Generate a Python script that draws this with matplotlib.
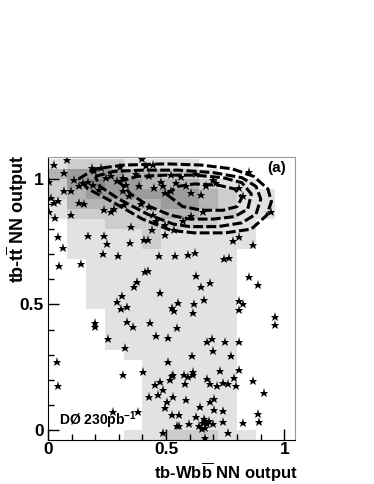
import matplotlib
matplotlib.use("Agg")
import matplotlib.pyplot as plt
from matplotlib.colors import ListedColormap
from matplotlib.ticker import MultipleLocator
import numpy as np

plt.rcParams['font.family'] = ['Liberation Sans', 'DejaVu Sans']
plt.rcParams['font.weight'] = 'bold'
plt.rcParams['mathtext.fontset'] = 'custom'
plt.rcParams['mathtext.rm'] = 'Liberation Sans:bold'
plt.rcParams['mathtext.bf'] = 'Liberation Sans:bold'

# histogram binning (x: 0.08 wide, y: 0.04 wide)
x_edges = np.arange(0, 1.041, 0.08)
y_edges = np.arange(-0.04, 1.081, 0.04)

# grey level per bin, rows from top (1.04-1.08) down to bottom (-0.04-0)
hist_rows = [
    [1, 2, 2, 2, 1, 1, 1, 1, 0, 0, 0, 0, 0],
    [3, 4, 4, 4, 3, 3, 2, 2, 1, 0, 0, 0, 0],
    [2, 4, 5, 4, 4, 3, 3, 3, 2, 1, 1, 0, 0],
    [2, 3, 4, 4, 4, 4, 4, 4, 3, 2, 1, 1, 0],
    [1, 3, 3, 3, 3, 3, 4, 4, 3, 2, 1, 1, 0],
    [1, 2, 2, 2, 2, 2, 3, 3, 2, 2, 1, 1, 0],
    [0, 1, 1, 2, 2, 2, 2, 2, 2, 1, 1, 0, 0],
    [0, 1, 1, 1, 1, 2, 1, 1, 1, 1, 1, 0, 0],
    [0, 1, 1, 1, 1, 2, 1, 1, 1, 1, 1, 0, 0],
    [0, 1, 1, 1, 1, 1, 1, 1, 1, 1, 0, 0, 0],
    [0, 0, 1, 1, 1, 1, 1, 1, 1, 1, 0, 0, 0],
    [0, 0, 1, 1, 1, 1, 1, 1, 1, 1, 0, 0, 0],
    [0, 0, 1, 1, 1, 1, 1, 1, 1, 1, 0, 0, 0],
    [0, 0, 1, 1, 1, 1, 1, 1, 1, 1, 0, 0, 0],
    [0, 0, 1, 1, 1, 1, 1, 1, 1, 1, 0, 0, 0],
    [0, 0, 0, 1, 1, 1, 1, 1, 1, 1, 0, 0, 0],
    [0, 0, 0, 1, 1, 1, 1, 1, 1, 1, 0, 0, 0],
    [0, 0, 0, 1, 1, 1, 1, 1, 1, 1, 0, 0, 0],
    [0, 0, 0, 1, 1, 1, 1, 1, 1, 1, 0, 0, 0],
    [0, 0, 0, 0, 1, 1, 1, 1, 1, 1, 0, 0, 0],
    [0, 0, 0, 0, 0, 1, 1, 1, 1, 1, 0, 0, 0],
    [0, 0, 0, 0, 0, 1, 1, 1, 1, 1, 0, 0, 0],
    [0, 0, 0, 0, 0, 1, 1, 1, 1, 1, 0, 0, 0],
    [0, 0, 0, 0, 0, 1, 1, 1, 1, 1, 0, 0, 0],
    [0, 0, 0, 0, 0, 1, 1, 1, 1, 1, 0, 0, 0],
    [0, 0, 0, 0, 0, 1, 1, 1, 1, 1, 0, 0, 0],
    [0, 0, 0, 0, 0, 1, 1, 1, 1, 1, 0, 0, 0],
    [0, 0, 0, 0, 1, 1, 2, 2, 2, 1, 1, 0, 0],
]
grey_colors = ['#ffffff', '#e2e2e2', '#cdcdcd', '#b4b4b4', '#9c9c9c', '#888888']

# data events (tb-Wbb output, tb-tt output)
data_x = [0.080, 0.025, 0.397, 0.415, 0.446, 0.305, 0.185, 0.197, 0.225, 0.070,
          0.006, 0.112, 0.147, 0.168, 0.190, 0.246, 0.267, 0.291, 0.316, 0.373,
          0.429, 0.521, 0.563, 0.626, 0.697, 0.852, 0.387, 0.450, 0.486, 0.521,
          0.605, 0.648, 0.810, 0.824, 0.944, 0.013, 0.027, 0.042, 0.006, 0.032,
          0.070, 0.098, 0.130, 0.154, 0.239, 0.267, 0.281, 0.323, 0.394, 0.429,
          0.098, 0.443, 0.457, 0.493, 0.535, 0.570, 0.605, 0.655, 0.352, 0.168,
          0.236, 0.042, 0.066, 0.249, 0.347, 0.408, 0.422, 0.440, 0.497, 0.784,
          0.810, 0.866, 0.046, 0.140, 0.232, 0.298, 0.469, 0.539, 0.594, 0.621,
          0.744, 0.765, 0.412, 0.425, 0.376, 0.364, 0.315, 0.476, 0.628, 0.646,
          0.687, 0.852, 0.890, 0.478, 0.493, 0.542, 0.584, 0.669, 0.711, 0.133,
          0.218, 0.316, 0.345, 0.330,
          0.291, 0.309, 0.333, 0.525, 0.532, 0.549, 0.617, 0.612, 0.658, 0.807,
          0.824, 0.807, 0.199, 0.199, 0.335, 0.359, 0.432, 0.545, 0.253, 0.455,
          0.507, 0.673, 0.694, 0.748, 0.807, 0.697, 0.325, 0.774, 0.608, 0.509,
          0.959, 0.959, 0.040, 0.044, 0.316, 0.401, 0.525, 0.529, 0.518, 0.577,
          0.591, 0.612, 0.612, 0.727, 0.806, 0.787, 0.866, 0.914, 0.474, 0.453,
          0.580, 0.673, 0.684, 0.715, 0.739, 0.760, 0.797, 0.488, 0.426, 0.467,
          0.503, 0.528, 0.584, 0.493, 0.645, 0.687, 0.701, 0.701, 0.524, 0.556,
          0.626, 0.659, 0.739, 0.546, 0.553, 0.598, 0.638, 0.655, 0.663, 0.697,
          0.739, 0.650, 0.664, 0.487, 0.664, 0.760, 0.274, 0.381, 0.887, 0.893,
          0.825, 0.672, 0.683]
data_y = [1.075, 1.056, 1.078, 1.053, 1.056, 1.049, 1.042, 1.033, 1.042, 1.022,
          0.989, 0.996, 0.983, 0.989, 0.976, 1.003, 1.012, 0.993, 1.003, 1.020,
          1.012, 1.016, 1.007, 1.020, 0.996, 1.029, 0.970, 0.963, 0.970, 0.950,
          0.943, 0.937, 0.963, 0.930, 0.870, 0.923, 0.903, 0.910, 0.870, 0.844,
          0.950, 0.950, 0.903, 0.899, 0.877, 0.870, 0.880, 0.897, 0.901, 0.888,
          0.857, 0.857, 0.831, 0.817, 0.798, 0.831, 0.851, 0.870, 0.808, 0.774,
          0.774, 0.769, 0.725, 0.741, 0.745, 0.758, 0.758, 0.798, 0.776, 0.751,
          0.769, 0.735, 0.655, 0.661, 0.702, 0.692, 0.692, 0.694, 0.698, 0.705,
          0.679, 0.684, 0.631, 0.635, 0.590, 0.571, 0.533, 0.544, 0.615, 0.570,
          0.587, 0.610, 0.579, 0.989, 0.943, 0.983, 0.970, 0.970, 0.983, 0.970,
          0.956, 0.950, 0.930, 0.976,
          0.511, 0.480, 0.491, 0.487, 0.474, 0.507, 0.503, 0.467, 0.516, 0.513,
          0.500, 0.478, 0.427, 0.411, 0.430, 0.411, 0.425, 0.405, 0.361, 0.374,
          0.365, 0.351, 0.361, 0.351, 0.351, 0.315, 0.328, 0.295, 0.295, 0.271,
          0.450, 0.419, 0.271, 0.173, 0.218, 0.231, 0.213, 0.218, 0.200, 0.218,
          0.209, 0.231, 0.218, 0.235, 0.239, 0.205, 0.193, 0.146, 0.189, 0.180,
          0.183, 0.202, 0.183, 0.173, 0.185, 0.183, 0.173, 0.160, 0.132, 0.139,
          0.112, 0.130, 0.120, 0.086, 0.090, 0.112, 0.123, 0.081, 0.060, 0.060,
          0.050, 0.044, 0.077, 0.017, 0.015, 0.024, 0.017, 0.026, 0.037, 0.024,
          0.030, 0.004, 0.007, -0.012, -0.032, -0.012, 0.073, 0.073, 0.063, 0.030,
          0.026, 0.024, 0.037]

# signal contours (outer to inner)
contour1_x = [0.13, 0.20, 0.32, 0.50, 0.65, 0.78, 0.87, 0.93, 0.945, 0.925, 0.86, 0.75, 0.62, 0.52, 0.40, 0.27, 0.17, 0.13]
contour1_y = [1.00, 1.04, 1.055, 1.06, 1.055, 1.04, 1.01, 0.96, 0.91, 0.855, 0.80, 0.785, 0.785, 0.795, 0.84, 0.91, 0.96, 1.00]
contour2_x = [0.20, 0.28, 0.40, 0.55, 0.70, 0.82, 0.88, 0.90, 0.88, 0.82, 0.72, 0.60, 0.53, 0.42, 0.30, 0.22, 0.20]
contour2_y = [1.01, 1.03, 1.035, 1.035, 1.025, 1.005, 0.97, 0.92, 0.86, 0.825, 0.81, 0.81, 0.82, 0.86, 0.92, 0.97, 1.01]
contour3_x = [0.30, 0.38, 0.50, 0.62, 0.74, 0.82, 0.86, 0.845, 0.79, 0.70, 0.60, 0.52, 0.43, 0.35, 0.30]
contour3_y = [0.99, 1.01, 1.015, 1.015, 1.005, 0.985, 0.94, 0.88, 0.85, 0.84, 0.84, 0.855, 0.89, 0.94, 0.99]
contour4_x = [0.50, 0.55, 0.62, 0.72, 0.79, 0.82, 0.80, 0.74, 0.65, 0.57, 0.50]
contour4_y = [0.94, 0.97, 0.98, 0.975, 0.96, 0.925, 0.89, 0.875, 0.875, 0.89, 0.94]

fig = plt.figure(figsize=(3.74, 4.84), dpi=100)
ax = fig.add_axes([0.128, 0.091, 0.661, 0.585])

levels = np.array(hist_rows[::-1])
cmap = ListedColormap(grey_colors)
ax.pcolormesh(x_edges, y_edges, levels, cmap=cmap, vmin=-0.5, vmax=5.5, shading='flat')

for cx, cy in [(contour1_x, contour1_y), (contour2_x, contour2_y),
               (contour3_x, contour3_y), (contour4_x, contour4_y)]:
    ax.plot(cx, cy, color='black', lw=2.2, dashes=(3.2, 1.1))

ax.plot(data_x, data_y, ls='none', marker='*', color='black', ms=6.5, mew=0)

ax.set_xlim(0, 1.045)
ax.set_ylim(-0.04, 1.088)
ax.xaxis.set_minor_locator(MultipleLocator(0.1))
ax.yaxis.set_minor_locator(MultipleLocator(0.1))
ax.set_xticks([0, 0.5, 1])
ax.set_xticklabels(['0', '0.5', '1'])
ax.set_yticks([0, 0.5, 1])
ax.set_yticklabels(['0', '0.5', '1'])
ax.tick_params(which='major', direction='in', length=8, width=1, labelsize=12.5, top=False, right=False)
ax.tick_params(which='minor', direction='in', length=4, width=1, top=False, right=False)
ax.tick_params(axis='x', pad=1.5)
ax.tick_params(axis='y', pad=3)
for lab in ax.get_xticklabels() + ax.get_yticklabels():
    lab.set_fontweight('bold')
ax.spines['top'].set_color('#999999')
ax.spines['right'].set_color('#999999')

ax.text(1.01, -0.154, r'tb-Wb$\overline{\mathbf{b}}$ NN output', transform=ax.transAxes,
        ha='right', va='bottom', fontsize=12, fontweight='bold')
ax.text(-0.122, 1.008, r'tb-t$\overline{\mathbf{t}}$ NN output', transform=ax.transAxes,
        ha='center', va='top', rotation=90, fontsize=13, fontweight='bold')
ax.text(0.927, 0.961, '(a)', transform=ax.transAxes, ha='center', va='center',
        fontsize=11, fontweight='bold')
ax.text(0.045, 0.04, r'DØ 230pb$^{-1}$', ha='left', va='center', fontsize=10,
        fontweight='bold', zorder=5)

fig.savefig('out.png', dpi=100)
